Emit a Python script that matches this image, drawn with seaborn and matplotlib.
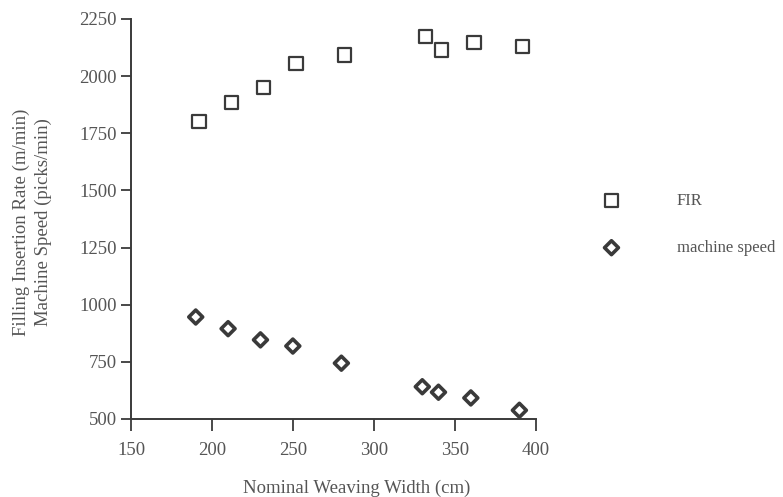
import matplotlib
matplotlib.use("Agg")
import matplotlib.pyplot as plt
import seaborn as sns
import pandas as pd

# Data
fir_width = [192, 212, 232, 252, 282, 332, 342, 362, 392]
fir_rate = [1801, 1886, 1950, 2056, 2092, 2174, 2114, 2146, 2129]
speed_width = [190, 210, 230, 250, 280, 330, 340, 360, 390]
speed_value = [946, 895, 846, 819, 744, 641, 617, 592, 538]
x_ticks = [150, 200, 250, 300, 350, 400]
y_ticks = [500, 750, 1000, 1250, 1500, 1750, 2000, 2250]

sns.set_theme(style="ticks")
plt.rcParams["font.family"] = ["Liberation Serif", "DejaVu Serif"]

ink = "#3a3a3a"
txt = "#555555"

fig = plt.figure(figsize=(7.83, 4.97), dpi=100)
ax = fig.add_axes([0.1673, 0.157, 0.5167, 0.805])

df_fir = pd.DataFrame({"w": fir_width, "v": fir_rate})
df_spd = pd.DataFrame({"w": speed_width, "v": speed_value})

sns.scatterplot(data=df_fir, x="w", y="v", ax=ax, marker="s", s=90,
                facecolor="none", edgecolor=ink, linewidth=1.6, label="FIR")
sns.scatterplot(data=df_spd, x="w", y="v", ax=ax, marker="D", s=50,
                facecolor="none", edgecolor=ink, linewidth=2.6, label="machine speed")

ax.set_xlim(150, 400)
ax.set_ylim(500, 2250)
ax.set_xticks(x_ticks)
ax.set_yticks(y_ticks)
ax.tick_params(axis="x", direction="out", length=8.5, width=1.3, color=ink,
               labelsize=13.5, labelcolor=txt, pad=8)
ax.tick_params(axis="y", direction="out", length=7, width=1.3, color=ink,
               labelsize=13.5, labelcolor=txt, pad=3)
for side in ["top", "right"]:
    ax.spines[side].set_visible(False)
for side in ["left", "bottom"]:
    ax.spines[side].set_color(ink)
    ax.spines[side].set_linewidth(1.4)

ax.set_xlabel("Nominal Weaving Width (cm)", fontsize=13.5, color=txt)
ax.xaxis.label.set_va("center")
ax.xaxis.set_label_coords(0.558, -0.1725)
ax.set_ylabel("Filling Insertion Rate (m/min)\nMachine Speed (picks/min)",
              fontsize=13.5, color=txt, linespacing=1.37)
ax.yaxis.label.set_va("center")
ax.yaxis.set_label_coords(-0.2434, 0.4925)

leg = ax.legend(loc="center left", bbox_to_anchor=(0.749, 0.548),
                bbox_transform=fig.transFigure, frameon=False, borderpad=0,
                handlelength=2, handletextpad=2.93, labelspacing=1.85,
                fontsize=12)
for t in leg.get_texts():
    t.set_color(txt)

fig.savefig("out.png", dpi=100)
